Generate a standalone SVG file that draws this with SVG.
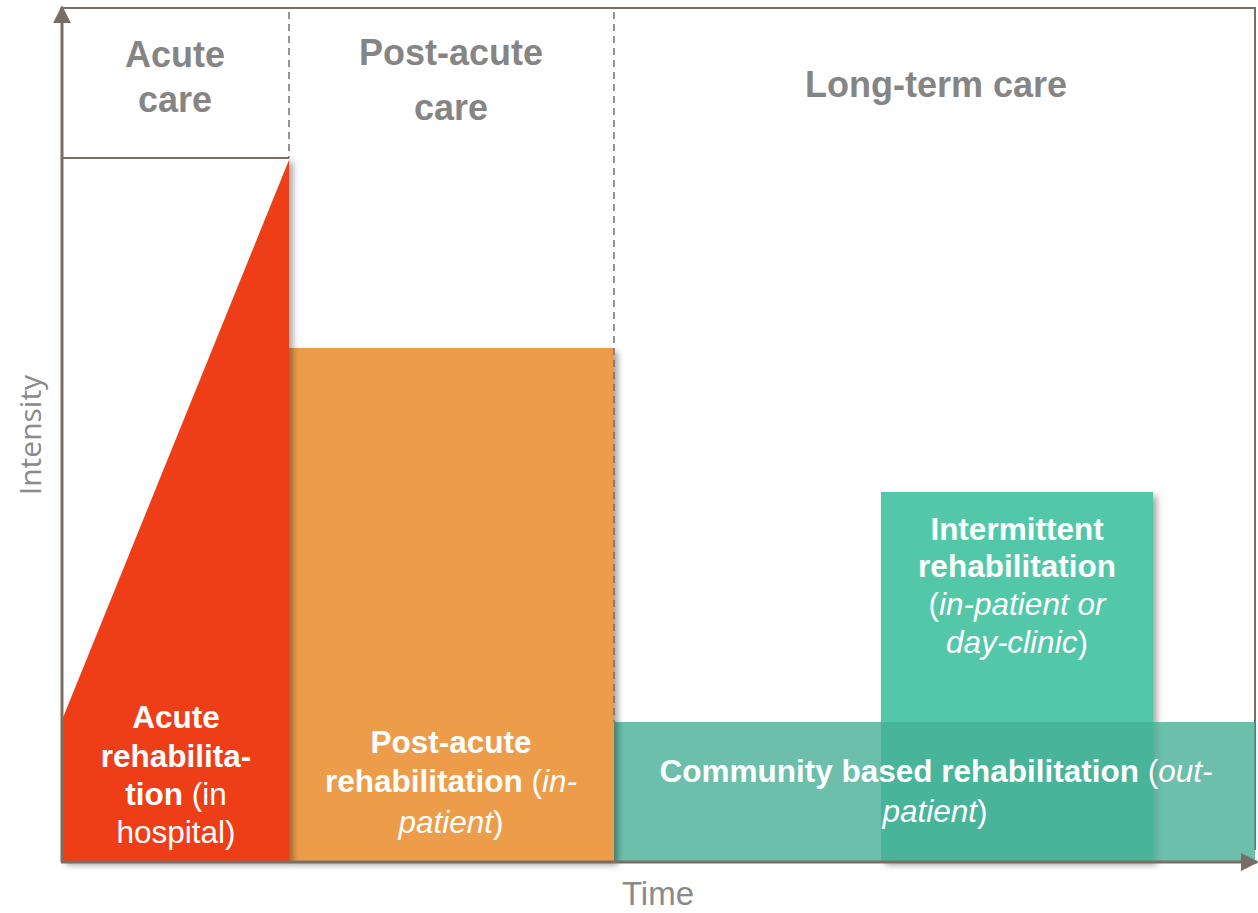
<svg xmlns="http://www.w3.org/2000/svg" width="1258" height="913" viewBox="0 0 1258 913">
  <style>
    .head { font-family: "Liberation Sans", Arial, sans-serif; font-weight: bold; font-size: 36px; fill: #858585; text-anchor: middle; }
    .lbl { font-family: "Liberation Sans", Arial, sans-serif; font-size: 31.5px; fill: #ffffff; text-anchor: middle; }
    .b { font-weight: bold; }
    .i { font-style: italic; }
    .axisLabel { font-family: "Liberation Sans", Arial, sans-serif; font-size: 33px; fill: #8a8a8a; text-anchor: middle; }
    .axis { stroke: #7a6e64; stroke-width: 3; fill: none; }
    .frame { stroke: #7a6e64; stroke-width: 2; fill: none; }
    .dash { stroke: #7a6e64; stroke-width: 1.5; stroke-dasharray: 7 5; fill: none; }
  </style>
  <defs>
    <filter id="shadow" x="-10%" y="-10%" width="130%" height="130%">
      <feDropShadow dx="4" dy="4" stdDeviation="3" flood-color="#000000" flood-opacity="0.35"/>
    </filter>
    <marker id="arrow" viewBox="0 0 10 10" refX="9" refY="5" markerWidth="6" markerHeight="6" orient="auto" markerUnits="strokeWidth">
      <path d="M0,0 L10,5 L0,10 Z" fill="#7a6e64"/>
    </marker>
  </defs>

  <!-- chart frame: top and right edges -->
  <g id="frame">
    <path class="frame" d="M62,8 H1255 V850"/>
  </g>

  <!-- phase headings -->
  <g id="heading-acute">
    <text class="head" x="175" y="67">Acute</text>
    <text class="head" x="175" y="112">care</text>
  </g>
  <g id="heading-post-acute">
    <text class="head" x="451" y="65">Post-acute</text>
    <text class="head" x="451" y="120">care</text>
  </g>
  <g id="heading-long-term">
    <text class="head" x="936" y="97">Long-term care</text>
  </g>

  <!-- intermittent rehabilitation -->
  <g id="intermittent">
    <rect x="881" y="492" width="272" height="369" fill="#52c8a8" filter="url(#shadow)"/>
    <text class="lbl" x="1017" y="540"><tspan class="b">Intermittent</tspan></text>
    <text class="lbl" x="1017" y="577"><tspan class="b">rehabilitation</tspan></text>
    <text class="lbl" x="1017" y="615">(<tspan class="i">in-patient or</tspan></text>
    <text class="lbl" x="1017" y="653"><tspan class="i">day-clinic</tspan>)</text>
  </g>

  <!-- community based rehabilitation (translucent, lies over the intermittent bar) -->
  <g id="community">
    <rect x="614" y="722" width="641" height="139" fill="#46af96" fill-opacity="0.8"/>
    <text class="lbl" x="936" y="782"><tspan class="b">Community based rehabilitation</tspan> (<tspan class="i">out-</tspan></text>
    <text class="lbl" x="935" y="822"><tspan class="i">patient</tspan>)</text>
  </g>

  <!-- post-acute rehabilitation -->
  <g id="post-acute">
    <rect x="289" y="348" width="325" height="513" fill="#ed9c4a" filter="url(#shadow)"/>
    <text class="lbl" x="451" y="753"><tspan class="b">Post-acute</tspan></text>
    <text class="lbl" x="451" y="792"><tspan class="b">rehabilitation</tspan> (<tspan class="i">in-</tspan></text>
    <text class="lbl" x="451" y="833"><tspan class="i">patient</tspan>)</text>
  </g>

  <!-- acute rehabilitation -->
  <g id="acute">
    <rect x="62" y="158" width="227" height="703" fill="#ffffff" filter="url(#shadow)"/>
    <path d="M62,720 L289,160 V861 H62 Z" fill="#ee3e18"/>
    <line class="frame" x1="62" y1="158" x2="289" y2="158"/>
    <text class="lbl" x="176" y="728"><tspan class="b">Acute</tspan></text>
    <text class="lbl" x="176" y="767"><tspan class="b">rehabilita-</tspan></text>
    <text class="lbl" x="176" y="805"><tspan class="b">tion</tspan> (in</text>
    <text class="lbl" x="176" y="843">hospital)</text>
  </g>

  <!-- phase separators and axes -->
  <g id="connectors">
    <line class="dash" x1="289" y1="12" x2="289" y2="158"/>
    <line class="dash" x1="614" y1="12" x2="614" y2="722"/>
    <line class="axis" x1="62" y1="862" x2="62" y2="7" marker-end="url(#arrow)"/>
    <line class="axis" x1="61" y1="862" x2="1257" y2="862" marker-end="url(#arrow)"/>
  </g>

  <!-- axis titles -->
  <g id="axis-labels">
    <text class="axisLabel" style="font-family: 'Open Sans', sans-serif; font-size: 30px;" transform="translate(41,435) rotate(-90)">Intensity</text>
    <text class="axisLabel" x="658" y="905">Time</text>
  </g>
</svg>
